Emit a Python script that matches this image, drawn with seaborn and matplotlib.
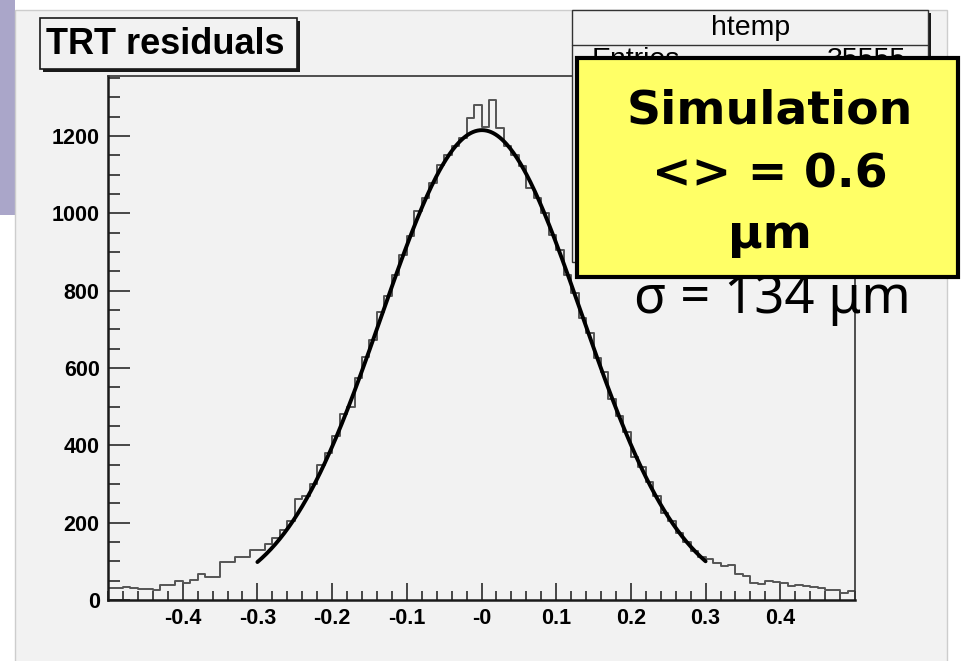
import numpy as np
import pandas as pd
import matplotlib
matplotlib.use("Agg")
import matplotlib.pyplot as plt
from matplotlib.patches import Rectangle
from matplotlib.lines import Line2D
from matplotlib.ticker import FixedLocator, FixedFormatter, MultipleLocator
import seaborn as sns

# ---- histogram of TRT residuals (100 bins over [-0.5, 0.5]) ----
bin_lo, bin_hi, n_bins = -0.5, 0.5, 100
counts = [
    30, 30, 33, 32, 28, 29, 26, 39, 40, 48,
    43, 53, 66, 59, 59, 97, 97, 111, 112, 129,
    130, 145, 160, 182, 205, 262, 268, 300, 348, 380,
    425, 482, 500, 575, 628, 672, 745, 785, 840, 893,
    940, 1005, 1040, 1078, 1125, 1150, 1175, 1195, 1246, 1281,
    1222, 1292, 1220, 1175, 1150, 1121, 1066, 1040, 1001, 945,
    905, 840, 795, 730, 690, 625, 590, 520, 475, 435,
    370, 345, 305, 270, 225, 205, 172, 150, 128, 112,
    105, 95, 88, 90, 66, 61, 45, 42, 48, 47,
    43, 36, 40, 37, 34, 31, 27, 25, 19, 24,
]

# ---- gaussian fit parameters ----
fit_amp = 1215.0
fit_mean = 0.0006
fit_sigma = 0.134
fit_lo, fit_hi = -0.3, 0.3

x_ticks = [-0.4, -0.3, -0.2, -0.1, 0.0, 0.1, 0.2, 0.3, 0.4]
x_tick_labels = ["-0.4", "-0.3", "-0.2", "-0.1", "-0", "0.1", "0.2", "0.3", "0.4"]
y_ticks = [0, 200, 400, 600, 800, 1000, 1200]
y_max = 1355

title_text = "TRT residuals"
stats_title = "htemp"
stats_entries_label = "Entries"
stats_entries_value = "35555"
note_lines = ["Simulation", "<> = 0.6", "\u03bcm"]
sigma_text = "\u03c3 = 134 \u03bcm"

# ---- figure setup ----
W, H = 964, 661
CANVAS = "#f2f2f2"
sns.set_theme(style="white")
plt.rcParams["font.family"] = ["Liberation Sans", "DejaVu Sans"]

fig = plt.figure(figsize=(W / 100, H / 100), dpi=100, facecolor="white")


def fx(x):
    return x / W


def fy(y):
    return 1 - y / H


def add_rect(x0, y0, x1, y1, **kw):
    r = Rectangle((fx(x0), fy(y1)), (x1 - x0) / W, (y1 - y0) / H,
                  transform=fig.transFigure, **kw)
    fig.add_artist(r)
    return r


# page decoration and canvas
add_rect(0, 0, 15, 215, facecolor="#aaa6c9", edgecolor="none", zorder=-3)
add_rect(15, 10, 947, 672, facecolor=CANVAS, edgecolor="#cdcdcd",
         linewidth=1.0, zorder=-2)

ax = fig.add_axes([fx(108), fy(600), (855 - 108) / W, (600 - 76) / H])
ax.set_facecolor(CANVAS)

bin_width = (bin_hi - bin_lo) / n_bins
centers = bin_lo + bin_width * (np.arange(n_bins) + 0.5)
df = pd.DataFrame({"residual": centers, "entries": np.asarray(counts, float)})
sns.histplot(data=df, x="residual", weights="entries", bins=n_bins,
             binrange=(bin_lo, bin_hi), element="step", fill=False,
             color="#555555", linewidth=1.4, ax=ax)

xs = np.linspace(fit_lo, fit_hi, 400)
fit_df = pd.DataFrame({
    "residual": xs,
    "fit": fit_amp * np.exp(-0.5 * ((xs - fit_mean) / fit_sigma) ** 2),
})
sns.lineplot(data=fit_df, x="residual", y="fit", color="black",
             linewidth=2.8, ax=ax)

ax.set_xlim(bin_lo, bin_hi)
ax.set_ylim(0, y_max)
ax.set_xlabel("")
ax.set_ylabel("")

ax.xaxis.set_major_locator(FixedLocator(x_ticks))
ax.xaxis.set_major_formatter(FixedFormatter(x_tick_labels))
ax.xaxis.set_minor_locator(MultipleLocator(0.02))
ax.yaxis.set_major_locator(FixedLocator(y_ticks))
ax.yaxis.set_minor_locator(MultipleLocator(50))

ax.tick_params(axis="both", which="both", direction="in", bottom=True,
               left=True, top=False, right=False, color="#2a2a2a",
               width=1.2, labelsize=15.5, labelcolor="black")
ax.tick_params(axis="y", which="major", length=16, pad=6)
ax.tick_params(axis="y", which="minor", length=8.5)
ax.tick_params(axis="x", which="major", length=12.5, pad=6)
ax.tick_params(axis="x", which="minor", length=6.5)
for lbl in ax.get_xticklabels() + ax.get_yticklabels():
    lbl.set_fontweight("bold")

for side in ("left", "bottom"):
    ax.spines[side].set_color("#1a1a1a")
    ax.spines[side].set_linewidth(1.8)
for side in ("top", "right"):
    ax.spines[side].set_color("#333333")
    ax.spines[side].set_linewidth(1.2)

# title box
add_rect(43, 21, 300, 72, facecolor="#1a1a1a", edgecolor="none", zorder=2)
add_rect(40, 18, 297, 69, facecolor=CANVAS, edgecolor="#1a1a1a",
         linewidth=1.2, zorder=2.1)
fig.text(fx(46), fy(44), title_text, fontsize=26, fontweight="bold",
         ha="left", va="center", color="black", zorder=2.2)

# statistics box
add_rect(575, 13, 931, 265, facecolor="#1a1a1a", edgecolor="none", zorder=2)
add_rect(572, 10, 928, 262, facecolor=CANVAS, edgecolor="#333333",
         linewidth=1.0, zorder=2.1)
fig.add_artist(Line2D([fx(572), fx(928)], [fy(45), fy(45)],
                      transform=fig.transFigure, color="#333333",
                      linewidth=1.0, zorder=2.2))
fig.text(fx(751), fy(28), stats_title, fontsize=20.5, ha="center",
         va="center", color="black", zorder=2.3)
fig.text(fx(592), fy(47), stats_entries_label, fontsize=20.5, ha="left",
         va="top", color="black", zorder=2.3)
fig.text(fx(906), fy(47), stats_entries_value, fontsize=20.5, ha="right",
         va="top", color="black", zorder=2.3)

# sigma annotation (partly hidden under the note box)
fig.text(fx(772), fy(313), sigma_text, fontsize=38, family="Noto Sans",
         ha="center", va="baseline", color="black", zorder=3)

# yellow note box
add_rect(577, 58, 958, 277, facecolor="#ffff66", edgecolor="black",
         linewidth=3.0, zorder=5)
for line, base in zip(note_lines, [123, 187, 248]):
    fig.text(fx(770), fy(base), line, fontsize=34, family="DejaVu Sans",
             fontweight="bold", ha="center", va="baseline", color="black",
             zorder=6)

fig.savefig("out.png", dpi=100, facecolor="white")
